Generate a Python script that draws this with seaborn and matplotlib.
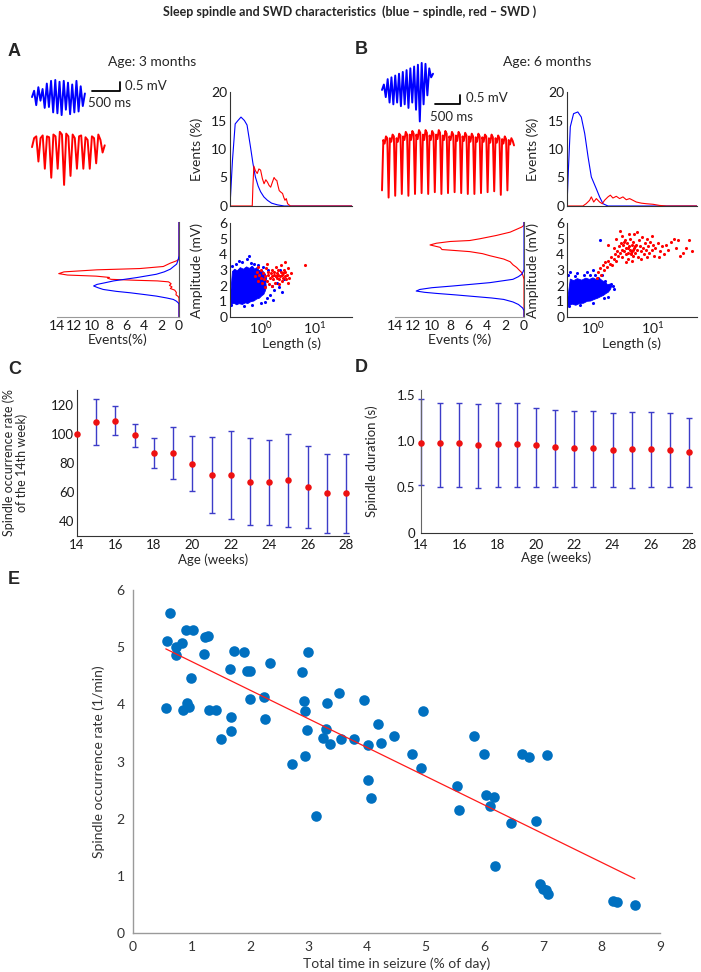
import numpy as np
import matplotlib
matplotlib.use("Agg")
import matplotlib.pyplot as plt
import seaborn as sns
from matplotlib.ticker import FixedLocator, NullFormatter, LogLocator

# ---------------- data ----------------
# example EEG traces (mV), equally spaced samples
blue_a = [0.0, 0.35, -0.45, 0.55, -0.2, 0.45, -0.6, 0.75, -0.55, 0.9, -0.85, 0.95, -0.9,
          0.85, -1.0, 0.9, -0.7, 0.8, -0.95, 0.7, -0.85, 0.9, -0.8, 0.6, -0.5, 0.2]
red_a = [-0.4, 0.1, 0.2, -1.2, 0.1, 0.25, -1.6, 0.2, 0.15, -2.1, 0.3, 0.2, -1.6, 0.45, 0.3,
         -2.5, 0.35, 0.2, -2.0, 0.3, 0.1, -1.6, 0.2, 0.25, -1.6, 0.15, 0.0, -1.6, 0.2, 0.1,
         -1.3, 0.3, 0.0, -0.7, -0.3]
blue_b = [0.0, 0.3, -0.4, 0.6, -0.7, 0.7, -0.8, 0.8, -0.7, 0.9, -0.9, 1.0, -0.8, 1.1, -1.0,
          1.2, -0.7, 1.3, -1.1, 1.4, -1.75, 1.5, -0.8, 1.45, -0.3, 1.2, 0.7, 0.9]
red_b = [-2.8, 0.0, -0.2, 0.2, 0.1,
         -3.2, 0.1, -0.1, 0.3, 0.2,
         -3.1, 0.1, -0.1, 0.35, 0.25,
         -3.0, 0.2, 0.0, 0.45, 0.3,
         -3.1, 0.3, 0.0, 0.5, 0.35,
         -3.0, 0.3, 0.05, 0.55, 0.4,
         -2.95, 0.3, 0.0, 0.55, 0.4,
         -3.0, 0.25, 0.0, 0.5, 0.35,
         -2.9, 0.3, 0.05, 0.55, 0.4,
         -3.0, 0.25, 0.0, 0.5, 0.35,
         -2.95, 0.2, 0.0, 0.45, 0.3,
         -2.9, 0.25, -0.05, 0.45, 0.3,
         -2.95, 0.2, -0.05, 0.4, 0.25,
         -3.0, 0.2, -0.1, 0.35, 0.2,
         -3.0, 0.15, -0.1, 0.35, 0.2,
         -2.95, 0.15, -0.1, 0.3, 0.2,
         -2.9, 0.1, -0.15, 0.3, 0.15,
         -2.85, 0.1, -0.15, 0.25, 0.1,
         -3.05, 0.05, -0.2, 0.2, 0.05,
         -2.8, 0.0, -0.25, 0.1, -0.05,
         -0.3]
dt_blue_a, dt_red_a, dt_blue_b, dt_red_b = 37.8, 38.2, 37.8, 26.4  # ms per sample

# length histograms (length in s, events %)
a_len_blue = [0.27, 0.30, 0.337, 0.38, 0.432, 0.50, 0.56, 0.648, 0.72, 0.80, 0.90, 1.0, 1.15, 1.34, 1.6, 2.06, 2.75, 50]
a_pct_blue = [0, 8, 14.4, 15.0, 15.6, 15.0, 14.2, 10.4, 7.5, 5.1, 3.5, 2.5, 1.6, 1.0, 0.5, 0.2, 0.0, 0.0]
a_len_red = [0.27, 0.70, 0.72, 0.75, 0.80, 0.866, 0.93, 1.0, 1.08, 1.16, 1.25, 1.34, 1.44, 1.54,
             1.66, 1.78, 1.9, 2.0, 2.1, 2.22, 2.4, 2.56, 2.7, 2.84, 3.0, 3.18, 3.58, 50]
a_pct_red = [0, 0, 3.5, 7.0, 6.2, 5.7, 6.5, 6.3, 4.8, 3.9, 4.6, 4.2, 3.6, 3.3,
             4.2, 5.0, 4.6, 4.5, 3.6, 2.7, 2.4, 2.2, 1.5, 1.0, 1.3, 0.4, 0.0, 0.0]
b_len_blue = [0.37, 0.39, 0.42, 0.476, 0.56, 0.64, 0.73, 0.83, 0.94, 1.14, 1.29, 1.47, 1.78, 54]
b_pct_blue = [0, 6.3, 13.9, 16.2, 16.5, 15.6, 12.7, 8.6, 5.1, 3.0, 1.6, 0.4, 0.0, 0.0]
b_len_red = [0.37, 0.68, 0.77, 0.88, 0.94, 1.03, 1.14, 1.29, 1.43, 1.56, 1.78, 1.95, 2.15, 2.45,
             2.78, 3.16, 3.59, 4.08, 4.64, 5.27, 6.4, 7.7, 10, 12.9, 16.7, 54]
b_pct_red = [0, 0, 0.4, 1.0, 1.6, 0.7, 1.3, 0.7, 0.4, 1.0, 1.6, 1.9, 1.4, 1.7,
             1.3, 1.6, 1.1, 1.3, 1.0, 0.7, 0.5, 0.4, 0.3, 0.1, 0.0, 0.0]

# amplitude histograms (amplitude mV, events %)
a_amp_red = [6.0, 3.66, 3.55, 3.40, 3.19, 3.06, 2.98, 2.85, 2.74, 2.65, 2.58, 2.50, 2.45, 2.38,
             2.32, 2.28, 2.22, 2.10, 2.00, 1.90, 1.80, 1.70, 1.55, 1.40, 1.30, 1.20, 0.0]
a_ev_red = [0.0, 0.0, 0.27, 1.0, 1.8, 4.5, 9.4, 13.2, 13.8, 12.8, 9.5, 8.0, 8.2, 7.8,
            5.0, 2.5, 1.2, 0.9, 1.1, 0.8, 1.0, 0.5, 0.3, 0.35, 0.1, 0.0, 0.0]
a_amp_blue = [6.0, 3.87, 3.60, 3.34, 3.02, 2.85, 2.70, 2.49, 2.28, 2.15, 2.06, 1.96, 1.85, 1.74,
              1.62, 1.53, 1.42, 1.32, 1.20, 1.11, 1.00, 0.89, 0.80, 0.0]
a_ev_blue = [0.0, 0.0, 0.1, 0.27, 1.0, 1.7, 2.6, 4.85, 7.5, 8.6, 9.4, 9.8, 9.3, 8.7,
             7.2, 5.6, 4.0, 2.6, 1.4, 0.65, 0.3, 0.08, 0.0, 0.0]
b_amp_red = [6.0, 5.79, 5.68, 5.36, 5.15, 4.94, 4.83, 4.77, 4.66, 4.55, 4.40, 4.26, 4.13, 4.00,
             3.87, 3.66, 3.49, 3.30, 3.13, 2.95, 2.81, 2.60, 2.38, 0.0]
b_ev_red = [0.0, 0.0, 0.25, 1.5, 3.0, 4.8, 5.9, 8.0, 9.5, 10.2, 9.1, 8.9, 5.9, 4.5,
            3.7, 2.2, 1.5, 1.2, 0.8, 0.5, 0.25, 0.1, 0.0, 0.0]
b_amp_blue = [6.0, 3.0, 2.85, 2.70, 2.55, 2.38, 2.17, 1.96, 1.85, 1.74, 1.64, 1.56, 1.49, 1.40,
              1.32, 1.20, 1.11, 0.95, 0.79, 0.57, 0.40, 0.0]
b_ev_blue = [0.0, 0.0, 0.1, 0.25, 0.6, 1.2, 3.7, 7.7, 10.0, 11.3, 11.7, 10.8, 9.5, 7.5,
             5.9, 3.5, 2.2, 1.2, 0.6, 0.15, 0.0, 0.0]

# length vs amplitude clouds: dense spindle region outline + individual events
a_blob_len = [0.27, 0.29, 0.32, 0.36, 0.40, 0.46, 0.52, 0.58, 0.66, 0.75, 0.85, 0.95, 1.05, 1.15,
              1.22, 1.28, 1.25, 1.30, 1.22, 1.15, 1.05, 0.95, 0.85, 0.78, 0.70, 0.62, 0.55, 0.48,
              0.42, 0.37, 0.33, 0.30, 0.27]
a_blob_amp = [0.95, 0.80, 0.88, 0.78, 0.85, 0.80, 0.90, 0.86, 0.98, 1.02, 1.15, 1.20, 1.35, 1.45,
              1.65, 1.90, 2.20, 2.50, 2.75, 2.85, 3.00, 2.95, 3.15, 3.05, 3.25, 3.10, 3.20, 3.05,
              3.15, 2.95, 3.05, 2.90, 0.95]
a_sp_len = [0.45, 0.55, 0.62, 0.35, 0.75, 0.9, 0.3, 0.5, 0.7, 1.3, 1.5, 1.6, 1.8, 2.0, 2.2, 2.5,
            1.4, 1.1, 0.28, 1.9, 2.3, 2.7, 0.4, 0.65, 1.2, 1.0, 1.7]
a_sp_amp = [3.5, 3.7, 3.9, 3.4, 3.4, 3.3, 3.25, 0.7, 0.75, 1.2, 1.4, 2.0, 1.7, 2.2, 1.9, 1.6,
            3.0, 3.2, 0.75, 2.6, 3.0, 2.4, 3.6, 3.45, 0.95, 0.9, 1.1]
a_swd_len = [0.78, 0.85, 0.9, 0.95, 1.0, 1.0, 1.05, 1.1, 1.15, 1.2, 1.25, 1.3, 1.35, 1.4, 1.45,
             1.5, 1.55, 1.6, 1.65, 1.7, 1.75, 1.8, 1.85, 1.9, 1.95, 2.0, 2.05, 2.1, 2.15, 2.2,
             2.3, 2.35, 2.4, 2.45, 2.5, 2.6, 2.65, 2.7, 2.8, 2.9, 3.0, 3.1, 3.2, 3.4, 3.6,
             1.2, 1.6, 2.2, 0.9, 6.6, 3.3, 1.3, 2.8]
a_swd_amp = [2.6, 2.9, 2.3, 2.7, 2.5, 3.0, 2.2, 2.8, 2.4, 2.6, 3.1, 2.3, 2.7, 2.9, 2.1,
             2.5, 2.8, 2.6, 3.0, 2.4, 2.7, 2.9, 2.2, 2.6, 3.2, 2.5, 2.8, 2.7, 3.0, 2.4,
             2.6, 2.9, 3.3, 2.7, 2.3, 2.8, 2.5, 3.0, 2.6, 2.9, 2.4, 2.7, 3.1, 2.5, 2.8,
             1.9, 2.0, 2.1, 3.2, 3.34, 2.2, 3.4, 3.5]
b_blob_len = [0.37, 0.40, 0.45, 0.52, 0.60, 0.70, 0.80, 0.92, 1.05, 1.2, 1.35, 1.5, 1.65, 1.8,
              1.95, 2.05, 1.9, 1.75, 1.6, 1.45, 1.3, 1.15, 1.0, 0.88, 0.76, 0.65, 0.55, 0.48,
              0.42, 0.37]
b_blob_amp = [0.80, 0.72, 0.82, 0.75, 0.86, 0.88, 1.00, 1.02, 1.12, 1.20, 1.30, 1.38, 1.50, 1.58,
              1.75, 1.95, 2.10, 2.05, 2.25, 2.30, 2.45, 2.38, 2.50, 2.40, 2.48, 2.35, 2.45, 2.32,
              2.42, 0.80]
b_sp_len = [0.38, 0.42, 0.5, 0.55, 0.7, 0.9, 1.1, 1.2, 1.29, 1.6, 2.0, 2.2, 2.15, 1.8, 1.5,
            0.4, 0.6, 1.0, 0.8, 1.0, 1.4]
b_sp_amp = [2.7, 2.9, 2.6, 2.8, 2.7, 2.7, 2.7, 2.5, 4.9, 2.3, 2.1, 1.8, 2.0, 1.3, 1.2,
            0.7, 0.75, 0.9, 2.9, 3.0, 2.7]
b_swd_len = [1.15, 1.2, 1.3, 1.35, 1.45, 1.55, 1.6, 1.7, 1.8, 1.9, 2.0, 2.1, 2.2, 2.3, 2.4,
             2.5, 2.6, 2.7, 2.8, 2.9, 3.0, 3.1, 3.2, 3.3, 3.4, 3.5, 3.6, 3.7, 3.8, 3.9,
             4.0, 4.1, 4.2, 4.3, 4.4, 4.5, 4.6, 4.7, 4.8, 4.9, 5.0, 5.2, 5.4, 5.6, 5.8,
             6.0, 6.2, 6.5, 6.8, 7.0, 7.3, 7.6, 8.0, 8.3, 8.7, 9.0, 9.5, 10.0, 10.5, 11.0,
             12.0, 13.0, 14.0, 15.0, 16.5, 18.0, 20.0, 22.0, 24.0, 26.0, 28.0, 32.0, 35.0, 40.0, 45.0,
             1.8, 2.2, 3.0, 3.6, 4.4, 5.5, 6.3, 9.8, 12.5, 2.4, 4.0, 7.8, 3.3, 5.1, 4.6, 3.9, 4.3, 2.8]
b_swd_amp = [2.5, 2.9, 3.1, 2.7, 3.3, 3.0, 3.5, 3.2, 3.6, 3.4, 3.8, 3.3, 3.7, 4.0, 3.6,
             4.2, 3.9, 4.5, 4.1, 4.7, 4.3, 3.8, 4.6, 4.2, 4.9, 4.0, 4.4, 4.7, 4.1, 3.7,
             4.5, 4.3, 5.0, 4.0, 4.6, 4.2, 3.9, 4.8, 4.4, 5.3, 4.1, 4.6, 4.3, 3.8, 4.9,
             4.5, 4.2, 5.1, 4.4, 4.0, 4.7, 4.3, 5.0, 4.5, 4.1, 4.8, 4.3, 4.6, 3.9, 4.4,
             4.7, 4.2, 4.5, 4.0, 4.6, 4.3, 4.8, 5.0, 4.4, 4.9, 3.9, 4.1, 4.4, 4.9, 4.2,
             4.6, 4.4, 5.2, 3.5, 3.6, 5.4, 3.7, 5.2, 3.8, 5.0, 5.3, 3.8, 4.8, 4.5, 4.3, 4.4, 4.1, 5.5]

# C: spindle occurrence rate (% of week 14)
weeks = [14, 15, 16, 17, 18, 19, 20, 21, 22, 23, 24, 25, 26, 27, 28]
occ_mean = [100, 108.2, 108.9, 98.9, 87.0, 87.0, 79.5, 71.8, 71.8, 67.2, 66.7, 68.2, 63.6, 59.3, 59.3]
occ_sd = [0, 15.8, 10.0, 7.8, 10.3, 17.7, 18.9, 26.3, 30.4, 29.9, 28.9, 31.9, 27.9, 27.0, 27.0]

# D: spindle duration (s)
dur_mean = [0.98, 0.973, 0.973, 0.953, 0.97, 0.96, 0.953, 0.93, 0.92, 0.92, 0.905, 0.91, 0.915, 0.905, 0.88]
dur_upper = [1.45, 1.41, 1.41, 1.40, 1.41, 1.41, 1.36, 1.33, 1.32, 1.32, 1.30, 1.31, 1.31, 1.30, 1.25]
dur_lower = [0.52, 0.50, 0.50, 0.49, 0.50, 0.50, 0.50, 0.50, 0.50, 0.50, 0.50, 0.49, 0.50, 0.50, 0.50]

# E: spindle rate vs seizure time
seizure_time = [0.63, 0.58, 0.73, 0.73, 0.84, 0.91, 1.02, 0.99, 1.23, 1.28, 1.22, 1.72, 1.90, 1.65, 1.95,
                2.00, 2.34, 1.99, 2.24, 2.89, 2.99, 2.92, 2.93, 3.32, 3.51, 3.94, 4.95, 4.19, 0.56, 0.93,
                0.85, 0.96, 1.30, 1.42, 1.67, 2.26, 3.29, 2.97, 1.67, 1.50, 2.71, 2.93, 3.25, 3.36, 3.13,
                3.55, 3.78, 4.01, 4.24, 4.45, 4.01, 4.07, 4.76, 4.91, 5.54, 5.56, 5.83, 5.99, 6.02, 6.17,
                6.09, 6.18, 6.45, 6.65, 6.77, 7.07, 6.89, 6.95, 7.00, 7.06, 7.09, 8.19, 8.26, 8.57]
spindle_rate = [5.60, 5.10, 5.00, 4.86, 5.08, 5.30, 5.30, 4.46, 5.17, 5.19, 4.88, 4.94, 4.92, 4.62, 4.58,
                4.58, 4.72, 4.10, 4.12, 4.56, 4.91, 4.06, 3.89, 4.03, 4.20, 4.08, 3.89, 3.65, 3.93, 4.02,
                3.90, 3.95, 3.90, 3.90, 3.77, 3.75, 3.57, 3.55, 3.53, 3.39, 2.95, 3.10, 3.41, 3.31, 2.05,
                3.39, 3.39, 3.29, 3.32, 3.45, 2.67, 2.37, 3.13, 2.89, 2.57, 2.15, 3.45, 3.13, 2.41, 2.38,
                2.23, 1.17, 1.93, 3.13, 3.08, 3.11, 1.96, 0.86, 0.77, 0.75, 0.68, 0.56, 0.55, 0.49]
fit_x = [0.56, 8.57]
fit_y = [4.97, 0.95]

# ---------------- style ----------------
sns.set_theme(style="white")
plt.rcParams["font.family"] = ["Lato", "DejaVu Sans"]
plt.rcParams["mathtext.fontset"] = "custom"
plt.rcParams["mathtext.rm"] = "Lato"
plt.rcParams["mathtext.it"] = "Lato:italic"
plt.rcParams["mathtext.bf"] = "Lato:bold"

BLUE, RED = "#0000ff", "#ff0000"
AX = "#333333"
W, H = 701, 972
fig = plt.figure(figsize=(W / 100, H / 100), dpi=100)


def px_axes(left, top, right, bottom):
    return fig.add_axes([left / W, 1 - bottom / H, (right - left) / W, (bottom - top) / H])


def ftext(x, y, s, **kw):
    fig.text(x / W, 1 - y / H, s, **kw)


def style_axes(ax, fs=10):
    for sp in ax.spines.values():
        sp.set_color(AX)
        sp.set_linewidth(0.8)
    ax.tick_params(direction="in", length=3, width=0.7, colors=AX, labelsize=fs,
                   labelcolor="#1a1a1a", pad=2)


ftext(350, 12, "Sleep spindle and SWD characteristics  (blue \u2013 spindle, red \u2013 SWD )",
      ha="center", va="center", fontsize=9, fontweight="bold")
for letter, x, y in [("A", 8, 52), ("B", 355, 50), ("C", 8, 370), ("D", 355, 367), ("E", 8, 580)]:
    ftext(x, y, letter, fontsize=13, fontweight="bold", family="Liberation Sans", va="center")


def traces_panel(rect, px_ms, blue, red, dt_b, dt_r, t0, off_b, off_r, bar, txt_mv, txt_ms):
    left, top, right, bottom = rect
    ax = px_axes(*rect)
    ax.set_xlim(0, (right - left) / px_ms)
    ax.set_ylim(0, (bottom - top) / 18.0)
    ax.axis("off")
    tb = t0 + np.arange(len(blue)) * dt_b
    tr = t0 + np.arange(len(red)) * dt_r
    ax.plot(tb, off_b + np.array(blue), color=BLUE, lw=1.4)
    ax.plot(tr, off_r + np.array(red), color=RED, lw=1.4)
    bx, by = bar
    ax.plot([bx, bx + 500, bx + 500], [by, by, by + 0.5], color="black", lw=1.3)
    ax.text(txt_mv[0], txt_mv[1], "0.5 mV", fontsize=9.5, va="center")
    ax.text(txt_ms[0], txt_ms[1], "500 ms", fontsize=9.5, va="center")


traces_panel((25, 70, 140, 195), 0.056, blue_a, red_a, dt_blue_a, dt_red_a, 125, 5.44, 3.06,
             (1196, 5.78), (1790, 6.06), (1125, 5.11))
traces_panel((375, 58, 525, 210), 0.05, blue_b, red_b, dt_blue_b, dt_red_b, 140, 6.67, 3.89,
             (1200, 5.89), (1830, 6.22), (1100, 5.17))

ftext(152, 62, "Age: 3 months", ha="center", va="center", fontsize=10)
ftext(547, 62, "Age: 6 months", ha="center", va="center", fontsize=10)


def length_hist(rect, xlim, lb, pb, lr, pr, ylab_px):
    ax = px_axes(*rect)
    sns.lineplot(x=lb, y=pb, sort=False, estimator=None, color=BLUE, lw=0.8, ax=ax)
    sns.lineplot(x=lr, y=pr, sort=False, estimator=None, color=RED, lw=0.8, ax=ax)
    ax.set_xscale("log")
    ax.set_xlim(*xlim)
    ax.set_ylim(0, 20)
    ax.set_yticks([0, 5, 10, 15, 20])
    ax.xaxis.set_minor_locator(LogLocator(subs=np.arange(2, 10)))
    ax.xaxis.set_major_formatter(NullFormatter())
    ax.xaxis.set_minor_formatter(NullFormatter())
    sns.despine(ax=ax)
    style_axes(ax)
    ax.tick_params(axis="x", which="both", length=2)
    ax.set_ylabel("Events (%)", fontsize=10)
    ax.yaxis.set_label_coords((ylab_px - rect[0]) / (rect[2] - rect[0]), 0.5)
    return ax


def scatter_panel(rect, xlim, blob_l, blob_a, sp_l, sp_a, sw_l, sw_a, ylab_px):
    ax = px_axes(*rect)
    ax.fill(blob_l, blob_a, color=BLUE, lw=0.6, ec=BLUE)
    sns.scatterplot(x=sp_l, y=sp_a, color=BLUE, s=5, linewidth=0, ax=ax)
    sns.scatterplot(x=sw_l, y=sw_a, color=RED, s=5, linewidth=0, ax=ax)
    ax.set_xscale("log")
    ax.set_xlim(*xlim)
    ax.set_ylim(0, 6)
    ax.set_yticks(range(7))
    ax.xaxis.set_major_locator(FixedLocator([1, 10]))
    ax.set_xticklabels(["$10^0$", "$10^1$"])
    ax.xaxis.set_minor_locator(LogLocator(subs=np.arange(2, 10)))
    ax.xaxis.set_minor_formatter(NullFormatter())
    sns.despine(ax=ax)
    style_axes(ax)
    ax.tick_params(axis="x", which="minor", length=2)
    ax.set_xlabel("Length (s)", fontsize=10, labelpad=1)
    ax.set_ylabel("Amplitude (mV)", fontsize=10)
    ax.yaxis.set_label_coords((ylab_px - rect[0]) / (rect[2] - rect[0]), 0.5)


def amp_hist(rect, ar, er, ab, eb, xlab):
    ax = px_axes(*rect)
    sns.lineplot(x=er, y=ar, sort=False, estimator=None, orient="y", color=RED, lw=0.8, ax=ax)
    sns.lineplot(x=eb, y=ab, sort=False, estimator=None, orient="y", color=BLUE, lw=0.8, ax=ax)
    ax.set_xlim(14, 0)
    ax.set_ylim(0, 6)
    ax.set_xticks([14, 12, 10, 8, 6, 4, 2, 0])
    ax.set_yticks([])
    ax.spines["left"].set_visible(False)
    ax.spines["top"].set_visible(False)
    style_axes(ax)
    ax.spines["right"].set_color("#555555")
    ax.spines["bottom"].set_color("#999999")
    ax.tick_params(axis="x", length=0)
    ax.set_xlabel(xlab, fontsize=10, labelpad=1)
    ax.set_ylabel("")


length_hist((230, 92, 352, 206), (0.27, 50), a_len_blue, a_pct_blue, a_len_red, a_pct_red, 203)
scatter_panel((230, 223, 352, 317), (0.27, 50), a_blob_len, a_blob_amp, a_sp_len, a_sp_amp,
              a_swd_len, a_swd_amp, 203)
amp_hist((57, 222, 179, 317), a_amp_red, a_ev_red, a_amp_blue, a_ev_blue, "Events(%)")

length_hist((567, 92, 697, 206), (0.37, 54), b_len_blue, b_pct_blue, b_len_red, b_pct_red, 539)
scatter_panel((567, 223, 697, 317), (0.37, 54), b_blob_len, b_blob_amp, b_sp_len, b_sp_amp,
              b_swd_len, b_swd_amp, 539)
amp_hist((395, 222, 524, 317), b_amp_red, b_ev_red, b_amp_blue, b_ev_blue, "Events (%)")

# ---- C ----
ERR = "#3c3cc8"
axc = px_axes(77, 390, 349, 536)
occ_mean_a = np.array(occ_mean)
occ_sd_a = np.array(occ_sd)
wk = np.array(weeks)
has = occ_sd_a > 0
axc.errorbar(wk[has], occ_mean_a[has], yerr=occ_sd_a[has], fmt="none", ecolor=ERR,
             elinewidth=1.0, capsize=2.5, capthick=1.0)
sns.scatterplot(x=weeks, y=occ_mean, color="#ee1111", s=22, linewidth=0, ax=axc, zorder=3,
                clip_on=False)
axc.set_xlim(14, 28.15)
axc.set_ylim(30, 130)
axc.set_xticks(range(14, 29, 2))
axc.set_yticks([40, 60, 80, 100, 120])
axc.set_yticks(range(30, 131, 10), minor=True)
sns.despine(ax=axc)
style_axes(axc, 9.5)
axc.tick_params(axis="y", which="minor", direction="in", length=2, colors=AX)
axc.set_xlabel("Age (weeks)", fontsize=9.5, labelpad=2)
axc.set_ylabel("Spindle occurrence rate (%\nof the 14th week)", fontsize=9,
               linespacing=1.05)
axc.yaxis.set_label_coords((28 - 77) / (349 - 77), 0.5)

# ---- D ----
axd = px_axes(421, 390, 692, 533)
dm = np.array(dur_mean)
yerr_d = [dm - np.array(dur_lower), np.array(dur_upper) - dm]
axd.errorbar(weeks, dur_mean, yerr=yerr_d, fmt="none", ecolor=ERR, elinewidth=1.0,
             capsize=2.5, capthick=1.0, clip_on=False)
sns.scatterplot(x=weeks, y=dur_mean, color="#ee1111", s=22, linewidth=0, ax=axd, zorder=3,
                clip_on=False)
axd.set_xlim(14, 28.15)
axd.set_ylim(0, 1.55)
axd.set_xticks(range(14, 29, 2))
axd.set_yticks([0, 0.5, 1.0, 1.5])
axd.set_yticklabels(["0", "0.5", "1.0", "1.5"])
sns.despine(ax=axd)
style_axes(axd, 9.5)
axd.tick_params(axis="x", pad=4)
axd.tick_params(axis="y", pad=4)
axd.spines["left"].set_color("#666666")
axd.set_xlabel("Age (weeks)", fontsize=9.5, labelpad=1)
axd.set_ylabel("Spindle duration (s)", fontsize=9.5)
axd.yaxis.set_label_coords((378 - 421) / (692 - 421), 0.5)

# ---- E ----
axe = px_axes(133, 590, 660, 933)
sns.scatterplot(x=seizure_time, y=spindle_rate, color="#0070c0", s=58, linewidth=0, ax=axe,
                clip_on=False)
sns.lineplot(x=fit_x, y=fit_y, color="#ff1a1a", lw=0.9, ax=axe)
axe.set_xlim(0, 9)
axe.set_ylim(0, 6)
axe.set_xticks(range(10))
axe.set_yticks(range(7))
sns.despine(ax=axe)
for sp in axe.spines.values():
    sp.set_color("#9a9a9a")
    sp.set_linewidth(1.0)
axe.tick_params(direction="out", length=3, width=0.8, colors="#9a9a9a", labelsize=10,
                labelcolor="#333333", pad=3)
axe.set_xlabel("Total time in seizure (% of day)", fontsize=10, color="#333333", labelpad=3)
axe.set_ylabel("Spindle occurrence rate (1/min)", fontsize=10, color="#333333", labelpad=8)

fig.savefig("out.png", dpi=100)
